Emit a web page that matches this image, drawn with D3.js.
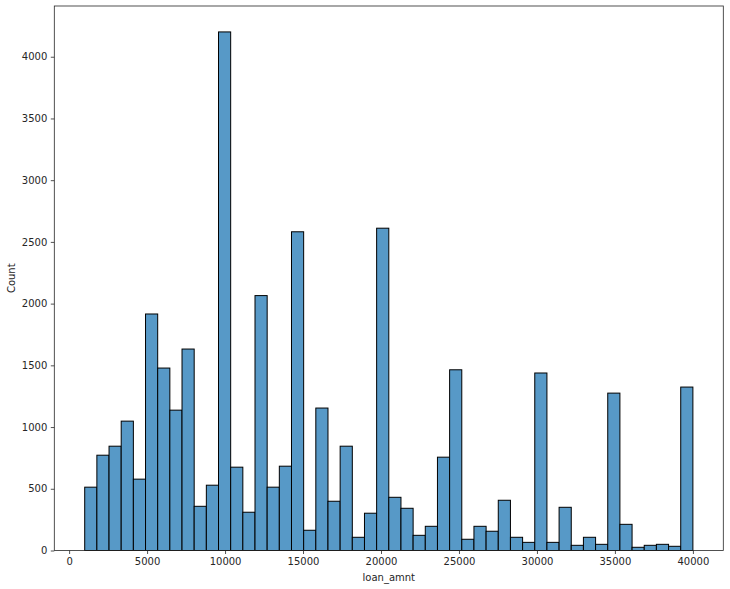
<!DOCTYPE html>
<html>
<head>
<meta charset="utf-8">
<script src="https://cdn.jsdelivr.net/npm/d3@7"></script>
<style>
html,body{margin:0;padding:0;background:#fff;}
svg{display:block;}
text{font-family:"DejaVu Sans",sans-serif;fill:#262626;}
</style>
</head>
<body>
<svg id="chart" width="730" height="589"></svg>
<script>
// Histogram of loan_amnt: 50 bins from 1000 to 40000
const binStart = 1000;
const binEnd = 40000;
const binCount = 50;
const counts = [
  513, 772, 845, 1048, 578, 1916, 1478, 1137, 1632, 358,
  529, 4201, 675, 310, 2065, 513, 683, 2582, 164, 1154,
  399, 845, 107, 302, 2611, 431, 342, 123, 196, 756,
  1464, 91, 196, 156, 407, 107, 66, 1438, 66, 350,
  42, 107, 50, 1275, 212, 26, 42, 50, 34, 1324
];
const xTicks = [0, 5000, 10000, 15000, 20000, 25000, 30000, 35000, 40000];
const yTicks = [0, 500, 1000, 1500, 2000, 2500, 3000, 3500, 4000];
const xLabel = "loan_amnt";
const yLabel = "Count";

const svg = d3.select("#chart");
const pLeft = 54.3, pRight = 723.3, pTop = 6, pBottom = 550.5;

const binW = (binEnd - binStart) / binCount;
const bins = counts.map((c, i) => ({x0: binStart + i * binW, x1: binStart + (i + 1) * binW, n: c}));

const pad = (binEnd - binStart) * 0.05;
const x = d3.scaleLinear().domain([binStart - pad, binEnd + pad]).range([pLeft, pRight]);
const yMax = d3.max(counts) * 1.05;
const y = d3.scaleLinear().domain([0, yMax]).range([pBottom, pTop]);

svg.append("g").selectAll("rect").data(bins).join("rect")
  .attr("x", d => x(d.x0))
  .attr("width", d => x(d.x1) - x(d.x0))
  .attr("y", d => y(d.n))
  .attr("height", d => y(0) - y(d.n))
  .attr("fill", "#5799c7")
  .attr("stroke", "#000")
  .attr("stroke-width", 1);

const xAxis = svg.append("g").attr("transform", `translate(0,${pBottom})`)
  .call(d3.axisBottom(x).tickValues(xTicks).tickFormat(d3.format("d")).tickSize(3.5).tickPadding(3.5));
const yAxis = svg.append("g").attr("transform", `translate(${pLeft},0)`)
  .call(d3.axisLeft(y).tickValues(yTicks).tickFormat(d3.format("d")).tickSize(3.5).tickPadding(3.5));
[xAxis, yAxis].forEach(g => {
  g.select(".domain").remove();
  g.selectAll("line").attr("stroke", "#262626").attr("stroke-width", 0.8);
  g.selectAll("text").attr("font-size", "10px").attr("font-family", "DejaVu Sans").attr("fill", "#262626");
});

// frame
svg.append("rect").attr("x", pLeft).attr("y", pTop).attr("width", pRight - pLeft).attr("height", pBottom - pTop)
  .attr("fill", "none").attr("stroke", "#262626").attr("stroke-width", 0.8);

svg.append("text").attr("x", (pLeft + pRight) / 2).attr("y", 581)
  .attr("text-anchor", "middle").attr("font-size", "10px").text(xLabel);
svg.append("text").attr("transform", `translate(15,${(pTop + pBottom) / 2}) rotate(-90)`)
  .attr("text-anchor", "middle").attr("font-size", "10px").text(yLabel);
</script>
</body>
</html>
